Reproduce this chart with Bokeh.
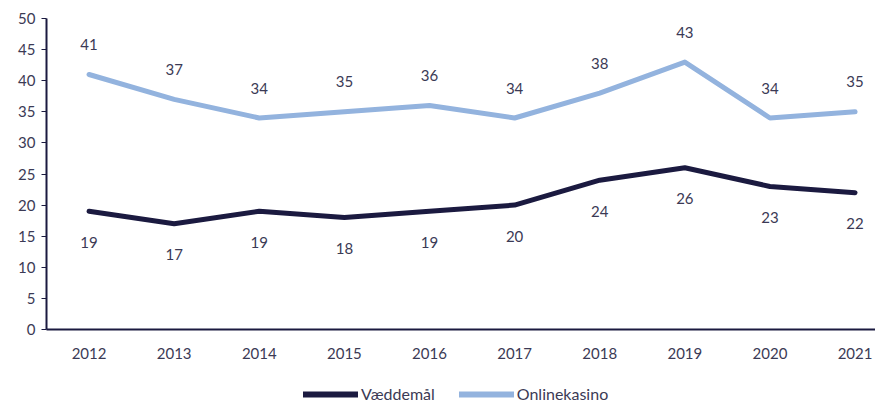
from bokeh.plotting import figure
from bokeh.models import ColumnDataSource, Legend, LegendItem, Range1d, FixedTicker
from bokeh.layouts import column
from bokeh.embed import file_html
from bokeh.resources import INLINE
from bokeh.core.properties import value

years = [2012, 2013, 2014, 2015, 2016, 2017, 2018, 2019, 2020, 2021]
vaeddemaal = [19, 17, 19, 18, 19, 20, 24, 26, 23, 22]
onlinekasino = [41, 37, 34, 35, 36, 34, 38, 43, 34, 35]
y_ticks = [0, 5, 10, 15, 20, 25, 30, 35, 40, 45, 50]
series_names = ["Væddemål", "Onlinekasino"]

DARK = "#1b1a40"
LIGHT = "#93b3de"
TEXT = "#3b3a55"
FONT = "Lato"

p = figure(width=875, height=369, output_backend="svg", toolbar_location=None,
           x_range=Range1d(2011.5, 2021.24), y_range=Range1d(0, 50),
           min_border_left=46, min_border_right=0, min_border_top=18, min_border_bottom=40)
p.outline_line_color = None
p.grid.grid_line_color = None
p.background_fill_color = "white"

src = ColumnDataSource(dict(x=years, v=vaeddemaal, o=onlinekasino,
                            vt=[str(v) for v in vaeddemaal], ot=[str(v) for v in onlinekasino]))

p.line("x", "v", source=src, line_color=DARK, line_width=5, line_cap="round", line_join="round")
p.line("x", "o", source=src, line_color=LIGHT, line_width=5, line_cap="round", line_join="round")

p.text("x", "o", text="ot", source=src, y_offset=-30, text_align="center", text_baseline="middle",
       text_color=TEXT, text_font=value(FONT), text_font_size="15px")
p.text("x", "v", text="vt", source=src, y_offset=31, text_align="center", text_baseline="middle",
       text_color=TEXT, text_font=value(FONT), text_font_size="15px")

p.xaxis.ticker = FixedTicker(ticks=years)
p.yaxis.ticker = FixedTicker(ticks=y_ticks)
for ax in (p.xaxis[0], p.yaxis[0]):
    ax.axis_line_color = DARK
    ax.axis_line_width = 2
    ax.major_label_text_color = TEXT
    ax.major_label_text_font = FONT
    ax.major_label_text_font_size = "15px"
    ax.minor_tick_line_color = None
p.xaxis.major_tick_line_color = None
p.xaxis.major_label_standoff = 12
p.yaxis.major_tick_line_color = DARK
p.yaxis.major_tick_out = 5
p.yaxis.major_tick_in = 0
p.yaxis.major_label_standoff = 6

# legend strip (series drawn outside its visible range; only the legend shows)
q = figure(width=875, height=34, output_backend="svg", toolbar_location=None,
           x_range=Range1d(0, 1), y_range=Range1d(0, 1),
           x_axis_type=None, y_axis_type=None,
           min_border_left=0, min_border_right=0, min_border_top=0, min_border_bottom=0)
q.outline_line_color = None
q.grid.grid_line_color = None
k1 = q.line("x", "v", source=src, line_color=DARK, line_width=6, line_cap="round")
k2 = q.line("x", "o", source=src, line_color=LIGHT, line_width=6, line_cap="round")
legend = Legend(items=[LegendItem(label=series_names[0], renderers=[k1]),
                       LegendItem(label=series_names[1], renderers=[k2])],
                orientation="horizontal", location=(257, 0),
                label_text_font=FONT, label_text_font_size="16px", label_text_color=TEXT,
                glyph_width=55, glyph_height=16, spacing=24, label_standoff=3,
                border_line_color=None, background_fill_alpha=0, margin=0, padding=2)
q.add_layout(legend)

layout = column(p, q, spacing=0)
open("out.html", "w").write(file_html(layout, INLINE))
